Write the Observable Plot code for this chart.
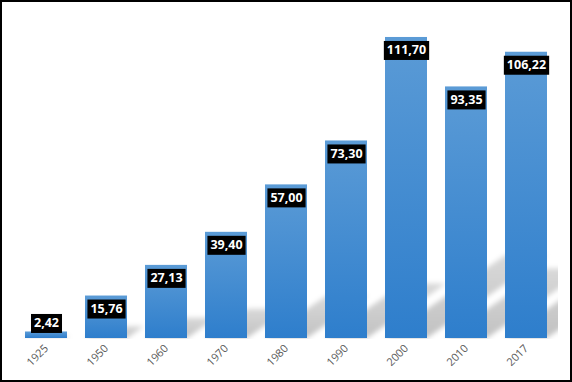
<!DOCTYPE html>
<html><head><meta charset="utf-8">
<script src="https://cdn.jsdelivr.net/npm/d3@7"></script>
<script src="https://cdn.jsdelivr.net/npm/@observablehq/plot@0.6"></script>
<style>
html,body{margin:0;padding:0;background:#fff;}
#chart{width:568px;height:378px;border:2px solid #000;overflow:hidden;}
#chart svg{display:block;}
</style></head><body><div id="chart"></div>
<script>
const years = ["1925","1950","1960","1970","1980","1990","2000","2010","2017"];
const values = [2.42, 15.76, 27.13, 39.40, 57.00, 73.30, 111.70, 93.35, 106.22];
const labels = ["2,42","15,76","27,13","39,40","57,00","73,30","111,70","93,35","106,22"];
const data = years.map((year, i) => ({year, value: values[i], label: labels[i]}));

const W = 568, H = 378, mT = 12.6, mB = 42, mL = 11.75, mR = 12;
const minLabelValue = 10.4;

const plot = Plot.plot({
  width: W, height: H, marginTop: mT, marginBottom: mB, marginLeft: mL, marginRight: mR,
  style: {fontFamily: "'Open Sans', sans-serif", background: "transparent"},
  x: {domain: years, paddingInner: 0.3, paddingOuter: 0.15, label: null},
  y: {domain: [0, 120], axis: null},
  marks: [
    Plot.barY(data, {x: "year", y: "value", fill: "url(#shadowGrad)", ariaDescription: "shadow"}),
    Plot.barY(data, {x: "year", y: "value", fill: "url(#barGrad)", ariaDescription: "bars"}),
    Plot.axisX({tickRotate: -45, tickSize: 0, tickPadding: 8, fontSize: 11, color: "#595959", label: null}),
    Plot.text(data, {x: "year", y: d => Math.max(d.value, minLabelValue), dy: 13, text: "label",
      fill: "white", fontWeight: "bold", fontSize: 12.5, ariaDescription: "labels"})
  ]
});
document.getElementById("chart").appendChild(plot);

const ns = "http://www.w3.org/2000/svg";
const svg = d3.select(plot);
const defs = svg.insert("defs", ":first-child");
const bg = defs.append("linearGradient").attr("id", "barGrad").attr("x1", 0).attr("y1", 0).attr("x2", 0).attr("y2", 1);
bg.append("stop").attr("offset", "0%").attr("stop-color", "#5b9bd6");
bg.append("stop").attr("offset", "100%").attr("stop-color", "#2e7ecc");
const sg = defs.append("linearGradient").attr("id", "shadowGrad").attr("x1", 0).attr("y1", 0).attr("x2", 0).attr("y2", 1);
sg.append("stop").attr("offset", "0%").attr("stop-color", "#000").attr("stop-opacity", 0.15);
sg.append("stop").attr("offset", "100%").attr("stop-color", "#000").attr("stop-opacity", 0.24);
defs.append("filter").attr("id", "blur").attr("x", "-20%").attr("y", "-20%").attr("width", "140%").attr("height", "140%")
  .append("feGaussianBlur").attr("stdDeviation", 2.5);
const base = plot.scale("y").apply(0);
defs.append("clipPath").attr("id", "plotClip").append("rect")
  .attr("x", 0).attr("y", 0).attr("width", W - mR).attr("height", base + 1);

// perspective shadow
const k = 0.4, s = 0.276;
const sh = plot.querySelector('g[aria-description="shadow"]');
if (sh) {
  const outer = document.createElementNS(ns, "g");
  outer.setAttribute("clip-path", "url(#plotClip)");
  const mid = document.createElementNS(ns, "g");
  mid.setAttribute("filter", "url(#blur)");
  const inner = document.createElementNS(ns, "g");
  inner.setAttribute("transform", `matrix(1,0,${-k},${s},${k * base},${base * (1 - s)})`);
  sh.parentNode.insertBefore(outer, sh);
  inner.appendChild(sh); mid.appendChild(inner); outer.appendChild(mid);
}

// label boxes
plot.querySelectorAll('g[aria-description="labels"] text').forEach(t => {
  const b = t.getBBox();
  const r = document.createElementNS(ns, "rect");
  r.setAttribute("x", b.x - 3);
  r.setAttribute("y", b.y - 0.5);
  r.setAttribute("width", b.width + 6);
  r.setAttribute("height", b.height + 2);
  r.setAttribute("fill", "#000");
  const tr = t.getAttribute("transform");
  if (tr) r.setAttribute("transform", tr);
  t.parentNode.insertBefore(r, t);
});
</script>
</body></html>
